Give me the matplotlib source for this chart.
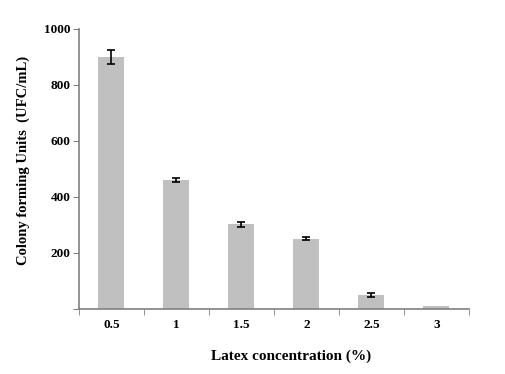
import matplotlib.pyplot as plt
import numpy as np

categories = ['0.5', '1', '1.5', '2', '2.5', '3']
values = [900, 461, 302, 251, 50, 10]
errors = [25, 8, 10, 5, 8, 0]

plt.rcParams['font.family'] = 'Liberation Serif'
plt.rcParams['font.weight'] = 'bold'

fig = plt.figure(figsize=(5.05, 3.74), dpi=100)
ax = fig.add_axes([0.1564, 0.1738, 0.7723, 0.7487])

x = np.arange(len(categories))
ax.bar(x, values, width=0.4, color='#c0c0c0', zorder=2)
ax.errorbar(x[:-1], values[:-1], yerr=errors[:-1], fmt='none', ecolor='black',
            elinewidth=1.2, capsize=3, capthick=1.2, zorder=3)

ax.set_xlim(-0.5, len(categories) - 0.5)
ax.set_ylim(0, 1000)
ax.set_yticks([0, 200, 400, 600, 800, 1000])
ax.set_yticklabels(['', '200', '400', '600', '800', '1000'])
ax.set_xticks(x)
ax.set_xticklabels(categories)
ax.set_xticks(np.arange(-0.5, len(categories)), minor=True)
ax.tick_params(axis='x', which='major', length=0, pad=7, labelsize=9.5)
ax.tick_params(axis='x', which='minor', length=4, color='#808080')
ax.tick_params(axis='y', length=4, color='#808080', labelsize=9.5, pad=2)

for s in ['top', 'right']:
    ax.spines[s].set_visible(False)
for s in ['left', 'bottom']:
    ax.spines[s].set_color('#808080')
    ax.spines[s].set_linewidth(1.2)

ax.set_xlabel('Latex concentration (%)', fontsize=11, fontweight='bold')
ax.xaxis.set_label_coords(0.544, -0.145)
ax.set_ylabel('Colony forming Units  (UFC/mL)', fontsize=10.5, fontweight='bold')
ax.yaxis.set_label_coords(-0.125, 0.53)

fig.savefig('out.png', dpi=100)
